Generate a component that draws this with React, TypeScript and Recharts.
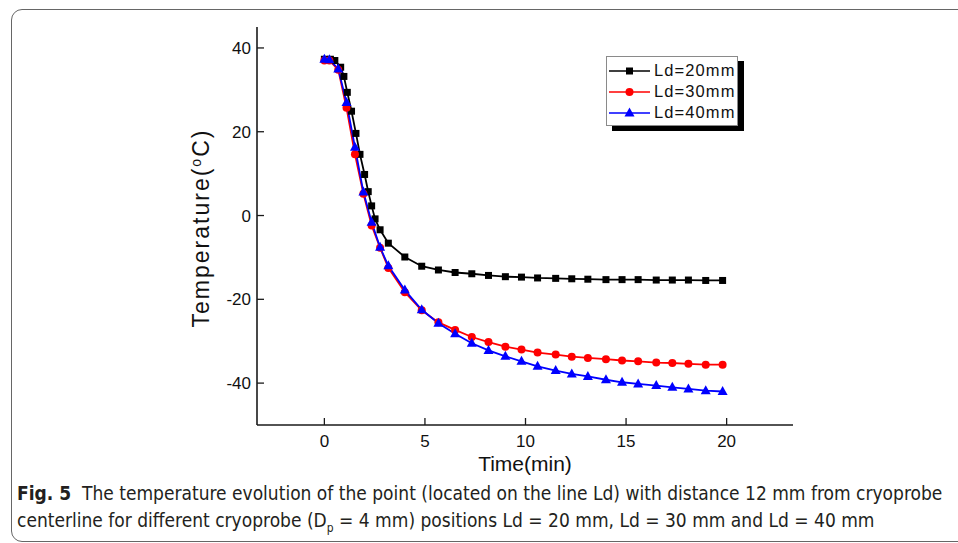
import React from 'react'
import { LineChart, Line, XAxis, YAxis, Legend } from 'recharts'

// Ld = 20 mm (black squares)
const ld20Time = [0, 0.3, 0.52, 0.81, 0.97, 1.14, 1.35, 1.57, 1.77, 2.0, 2.18, 2.35, 2.52, 2.77, 3.18, 4.0, 4.84, 5.67, 6.5, 7.33, 8.16, 9.0, 9.8, 10.6, 11.5, 12.3, 13.1, 14.0, 14.8, 15.6, 16.5, 17.3, 18.1, 18.96, 19.8]
const ld20Temp = [37.3, 37.3, 37.0, 35.4, 33.2, 29.4, 24.9, 19.6, 14.6, 9.8, 5.7, 2.3, -0.8, -3.4, -6.6, -9.9, -12.1, -13.0, -13.6, -13.9, -14.3, -14.6, -14.7, -14.9, -15.0, -15.1, -15.2, -15.3, -15.3, -15.3, -15.4, -15.4, -15.4, -15.5, -15.5]

// Ld = 30 mm and Ld = 40 mm share the same sample times
const ldTime = [0, 0.25, 0.69, 1.1, 1.52, 1.94, 2.35, 2.77, 3.18, 4.0, 4.84, 5.67, 6.5, 7.33, 8.16, 9.0, 9.8, 10.6, 11.5, 12.3, 13.1, 14.0, 14.8, 15.6, 16.5, 17.3, 18.1, 18.96, 19.8]
const ld30Temp = [37.0, 37.0, 34.8, 25.7, 14.6, 5.2, -2.4, -7.7, -12.5, -18.3, -22.6, -25.5, -27.3, -29.0, -30.2, -31.3, -32.0, -32.7, -33.2, -33.7, -34.0, -34.3, -34.6, -34.8, -35.1, -35.2, -35.4, -35.6, -35.6]
const ld40Temp = [37.3, 37.2, 35.0, 27.0, 16.3, 5.6, -1.6, -7.6, -12.0, -17.8, -22.5, -25.7, -28.2, -30.5, -32.2, -33.6, -34.8, -36.0, -37.0, -37.8, -38.4, -39.2, -39.8, -40.2, -40.6, -41.0, -41.4, -41.8, -42.0]

const xTicks = [0, 5, 10, 15, 20]
const yTicks = [-40, -20, 0, 20, 40]

const toPoints = (ts: number[], vs: number[]) => ts.map((t, i) => ({ t, v: vs[i] }))

const series = [
  { name: 'Ld=20mm', color: '#000000', shape: 'square', data: toPoints(ld20Time, ld20Temp) },
  { name: 'Ld=30mm', color: '#ff0000', shape: 'circle', data: toPoints(ldTime, ld30Temp) },
  { name: 'Ld=40mm', color: '#0000ff', shape: 'triangle', data: toPoints(ldTime, ld40Temp) },
]

const AXIS = '#1a1a1a'
const FONT = '"Liberation Sans", Arial, sans-serif'

function Marker({ cx, cy, shape, color }: any) {
  if (cx == null || cy == null) return null
  if (shape === 'square') return <rect x={cx - 3.5} y={cy - 3.5} width={7} height={7} fill={color} />
  if (shape === 'circle') return <circle cx={cx} cy={cy} r={4} fill={color} />
  return <polygon points={`${cx},${cy - 5.5} ${cx - 5},${cy + 3.5} ${cx + 5},${cy + 3.5}`} fill={color} />
}

// ticks point into the plot, labels sit outside
const XTick = ({ x, y, payload }: any) => (
  <g>
    <line x1={x} x2={x} y1={y - 6} y2={y - 13} stroke={AXIS} strokeWidth={1.3} />
    <text x={x} y={y + 16} textAnchor="middle" fontSize={17} fill="#111" fontFamily={FONT}>
      {payload.value}
    </text>
  </g>
)

const YTick = ({ x, y, payload }: any) => (
  <g>
    <line x1={x + 6} x2={x + 13} y1={y} y2={y} stroke={AXIS} strokeWidth={1.3} />
    <text x={x} y={y + 6} textAnchor="end" fontSize={17} fill="#111" fontFamily={FONT}>
      {payload.value}
    </text>
  </g>
)

const YLabel = ({ viewBox }: any) => {
  const cx = viewBox.x + 12
  const cy = viewBox.y + viewBox.height / 2 + 2
  return (
    <text
      x={cx}
      y={cy}
      transform={`rotate(-90, ${cx}, ${cy})`}
      textAnchor="middle"
      fontSize={23}
      fill="#111"
      fontFamily={FONT}
      letterSpacing={2}
    >
      Temperature(<tspan dy={-8} fontSize={14}>o</tspan>
      <tspan dy={8}>C)</tspan>
    </text>
  )
}

const XLabel = ({ viewBox }: any) => (
  <text
    x={viewBox.x + viewBox.width / 2}
    y={viewBox.y + 46}
    textAnchor="middle"
    fontSize={21}
    fill="#111"
    fontFamily={FONT}
  >
    Time(min)
  </text>
)

const renderLegend = (props: any) => {
  const items = props.payload || []
  return (
    <div
      style={{
        width: 129,
        border: '1px solid #8a8a8a',
        background: '#fff',
        boxShadow: '6px 5px 0 #000',
        padding: '3px 0 2px 1px',
        fontFamily: FONT,
      }}
    >
      {items.map((entry: any) => {
        const s = series.find(d => d.name === entry.value)!
        return (
          <div key={s.name} style={{ display: 'flex', alignItems: 'center', height: 21 }}>
            <svg width={44} height={20}>
              <line x1={1} x2={42} y1={10} y2={10} stroke={s.color} strokeWidth={1.6} />
              <Marker cx={21.5} cy={10} shape={s.shape} color={s.color} />
            </svg>
            <span style={{ fontSize: 16.5, letterSpacing: 1.1, color: '#111', marginLeft: 2 }}>{s.name}</span>
          </div>
        )
      })}
    </div>
  )
}

export default function App() {
  return (
    <div style={{ position: 'absolute', left: 0, top: 0, width: 958, height: 543, background: '#fff', overflow: 'hidden' }}>
      {/* card outline */}
      <div
        style={{
          position: 'absolute',
          left: 11,
          top: 9,
          width: 980,
          height: 531,
          border: '1.5px solid #666',
          borderRadius: 11,
        }}
      />
      <div style={{ position: 'absolute', left: 0, top: 0 }}>
        <LineChart width={958} height={543} margin={{ top: 27, right: 165, bottom: 88, left: 197 }}>
          <XAxis
            xAxisId={0}
            dataKey="t"
            type="number"
            domain={[-3.35, 23.3]}
            ticks={xTicks}
            allowDataOverflow
            height={30}
            tickSize={0}
            tickMargin={6}
            tickLine={false}
            tick={<XTick />}
            axisLine={{ stroke: AXIS, strokeWidth: 1.6 }}
            label={<XLabel />}
          />
          <XAxis xAxisId="top" orientation="top" type="number" domain={[-3.35, 23.3]} height={0} tick={false} tickLine={false} axisLine={{ stroke: AXIS, strokeWidth: 1.6 }} />
          <YAxis
            yAxisId={0}
            type="number"
            domain={[-50, 45]}
            ticks={yTicks}
            allowDataOverflow
            width={60}
            tickSize={0}
            tickMargin={6}
            tickLine={false}
            tick={<YTick />}
            axisLine={{ stroke: AXIS, strokeWidth: 1.6 }}
            label={<YLabel />}
          />
          <YAxis yAxisId="right" orientation="right" type="number" domain={[-50, 45]} width={0} tick={false} tickLine={false} axisLine={{ stroke: AXIS, strokeWidth: 1.6 }} />
          <Legend
            content={renderLegend}
            layout="horizontal"
            verticalAlign="middle"
            align="center"
            wrapperStyle={{ position: 'absolute', left: 606, top: 56, width: 'auto', height: 'auto' }}
          />
          {series.map(s => (
            <Line
              key={s.name}
              name={s.name}
              data={s.data}
              dataKey="v"
              type="linear"
              stroke={s.color}
              strokeWidth={1.8}
              isAnimationActive={false}
              dot={(p: any) => <Marker key={`${s.name}-${p.index}`} cx={p.cx} cy={p.cy} shape={s.shape} color={s.color} />}
              activeDot={false}
            />
          ))}
        </LineChart>
      </div>
      <div
        style={{
          position: 'absolute',
          left: 17,
          top: 480,
          width: 940,
          fontFamily: '"DejaVu Sans Condensed", "DejaVu Sans", sans-serif',
          fontSize: 19,
          lineHeight: '27px',
          color: '#231f20',
          whiteSpace: 'nowrap',
        }}
      >
        <div>
          <b>Fig. 5</b>&nbsp; The temperature evolution of the point (located on the line Ld) with distance 12 mm from cryoprobe
        </div>
        <div>
          centerline for different cryoprobe (D<sub style={{ fontSize: 12, lineHeight: 0 }}>p</sub> = 4 mm) positions Ld = 20 mm, Ld = 30 mm and Ld = 40 mm
        </div>
      </div>
    </div>
  )
}
